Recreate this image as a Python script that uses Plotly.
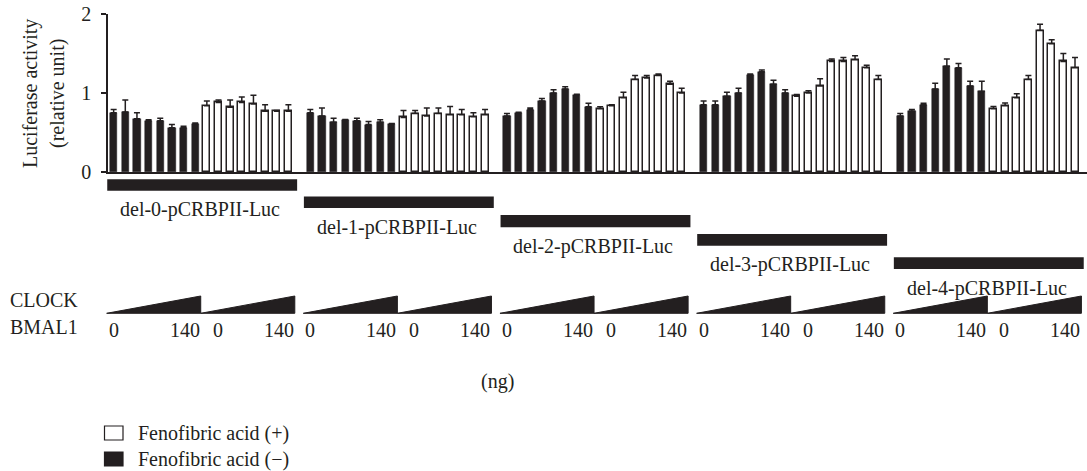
import plotly.graph_objects as go

# ---------------- data ----------------
constructs = ["del-0-pCRBPII-Luc", "del-1-pCRBPII-Luc", "del-2-pCRBPII-Luc",
              "del-3-pCRBPII-Luc", "del-4-pCRBPII-Luc"]

# Fenofibric acid (-) : 8 doses of CLOCK/BMAL1 (0 -> 140 ng) per construct
minus_vals = [
    [0.75, 0.76, 0.675, 0.65, 0.65, 0.56, 0.56, 0.61],
    [0.75, 0.71, 0.63, 0.66, 0.65, 0.60, 0.63, 0.61],
    [0.71, 0.75, 0.79, 0.90, 1.00, 1.05, 0.98, 0.825],
    [0.85, 0.85, 0.96, 1.00, 1.23, 1.27, 1.11, 1.00],
    [0.71, 0.77, 0.85, 1.05, 1.34, 1.32, 1.09, 1.02],
]
minus_err = [
    [0.04, 0.15, 0.075, 0.01, 0.03, 0.04, 0.02, 0.01],
    [0.04, 0.10, 0.05, 0.005, 0.03, 0.04, 0.03, 0.005],
    [0.03, 0.005, 0.02, 0.03, 0.04, 0.03, 0.005, 0.045],
    [0.05, 0.05, 0.05, 0.06, 0.01, 0.02, 0.05, 0.04],
    [0.03, 0.02, 0.02, 0.075, 0.09, 0.055, 0.06, 0.13],
]
# Fenofibric acid (+)
plus_vals = [
    [0.84, 0.88, 0.82, 0.88, 0.86, 0.77, 0.77, 0.77],
    [0.69, 0.74, 0.71, 0.74, 0.725, 0.725, 0.70, 0.725],
    [0.80, 0.84, 0.94, 1.17, 1.19, 1.22, 1.11, 1.00],
    [0.96, 1.00, 1.09, 1.40, 1.40, 1.42, 1.32, 1.17],
    [0.80, 0.84, 0.94, 1.17, 1.79, 1.625, 1.40, 1.32],
]
plus_err = [
    [0.06, 0.03, 0.09, 0.07, 0.11, 0.08, 0.01, 0.08],
    [0.09, 0.04, 0.10, 0.07, 0.105, 0.065, 0.05, 0.065],
    [0.025, 0.01, 0.07, 0.05, 0.03, 0.02, 0.04, 0.06],
    [0.02, 0.03, 0.09, 0.03, 0.05, 0.05, 0.03, 0.05],
    [0.03, 0.035, 0.05, 0.05, 0.08, 0.05, 0.10, 0.13],
]
dose_labels = ["0", "140"]
y_ticks = [0, 1, 2]
legend_labels = ["Fenofibric acid (+)", "Fenofibric acid (\u2212)"]

# ---------------- layout geometry ----------------
W, H = 1087, 471
ML, MT, MB, MR = 108, 14, 299, 0
PW = W - ML - MR
PH = H - MT - MB
GROUP_STEP = 16.88
N = 8
XMIN, XMAX = -0.485, 83.55
INK = "#231f20"
FONT = "Liberation Serif, Times New Roman, serif"
FS = 20


def d2px(x):
    return ML + (x - XMIN) / (XMAX - XMIN) * PW


def pxp(px):
    return (px - ML) / PW


def pyp(py):
    return (MT + PH - py) / PH


bx, by, be, wx, wy, we = [], [], [], [], [], []
for g in range(len(constructs)):
    for i in range(N):
        bx.append(g * GROUP_STEP + i)
        by.append(minus_vals[g][i])
        be.append(minus_err[g][i])
        wx.append(g * GROUP_STEP + N + i)
        wy.append(plus_vals[g][i])
        we.append(plus_err[g][i])

fig = go.Figure()
fig.add_trace(go.Bar(
    x=bx, y=by, width=0.62, name=legend_labels[1],
    marker=dict(color=INK, line=dict(color=INK, width=0.5)),
    error_y=dict(type="data", array=be, symmetric=False, arrayminus=[0] * len(be),
                 color=INK, thickness=1.5, width=3),
    showlegend=False))
fig.add_trace(go.Bar(
    x=wx, y=wy, width=0.60, name=legend_labels[0],
    marker=dict(color="white", line=dict(color=INK, width=1.5)),
    error_y=dict(type="data", array=we, symmetric=False, arrayminus=[0] * len(we),
                 color=INK, thickness=1.5, width=3),
    showlegend=False))

shapes = []
annotations = []

# construct bars and labels
bar_y = [(179.3, 190.7), (196.5, 208.0), (215.0, 227.3), (234.0, 245.7), (257.3, 269.0)]
for g, name in enumerate(constructs):
    x0 = d2px(g * GROUP_STEP - 0.55)
    x1 = min(d2px(g * GROUP_STEP + 2 * N - 1 + 0.75), W)
    y0, y1 = bar_y[g]
    shapes.append(dict(type="rect", xref="paper", yref="paper",
                       x0=pxp(x0), x1=pxp(x1), y0=pyp(y1), y1=pyp(y0),
                       fillcolor=INK, line=dict(width=0)))
    annotations.append(dict(text=name, xref="paper", yref="paper",
                            x=pxp((x0 + x1) / 2 - 2), y=pyp(y1 + 19),
                            xanchor="center", yanchor="middle", showarrow=False,
                            font=dict(family=FONT, size=FS, color=INK)))

    # dose wedges
    ws = d2px(g * GROUP_STEP - 0.6)
    we_ = d2px(g * GROUP_STEP + 2 * N - 1 + 0.55)
    wm = (ws + we_) / 2
    for k, (a, b) in enumerate([(ws, wm), (wm, we_)]):
        yb, yt = pyp(313.3), pyp(296)
        shapes.append(dict(type="path", xref="paper", yref="paper",
                           path=f"M {pxp(a)},{yb} L {pxp(b)},{yb} L {pxp(b)},{yt} Z",
                           fillcolor=INK, line=dict(color=INK, width=1)))
        zx = a + (7 if k == 0 else 17)
        annotations.append(dict(text=dose_labels[0], xref="paper", yref="paper",
                                x=pxp(zx), y=pyp(330), xanchor="center", yanchor="middle",
                                showarrow=False, font=dict(family=FONT, size=FS, color=INK)))
        annotations.append(dict(text=dose_labels[1], xref="paper", yref="paper",
                                x=pxp(b + 1), y=pyp(330), xanchor="right", yanchor="middle",
                                showarrow=False, font=dict(family=FONT, size=FS, color=INK)))

# row labels
for txt, yy in [("CLOCK", 300), ("BMAL1", 327)]:
    annotations.append(dict(text=txt, xref="paper", yref="paper", x=pxp(8), y=pyp(yy),
                            xanchor="left", yanchor="middle", showarrow=False,
                            font=dict(family=FONT, size=FS, color=INK)))
annotations.append(dict(text="(ng)", xref="paper", yref="paper", x=pxp(497), y=pyp(381),
                        xanchor="center", yanchor="middle", showarrow=False,
                        font=dict(family=FONT, size=FS, color=INK)))

# y-axis title (two rotated lines)
for txt, xx in [("Luciferase activity", 30), ("(relative unit)", 57)]:
    annotations.append(dict(text=txt, xref="paper", yref="paper", x=pxp(xx), y=pyp(94),
                            xanchor="center", yanchor="middle", textangle=-90, showarrow=False,
                            font=dict(family=FONT, size=FS, color=INK)))

# legend
for k, (fill, yy) in enumerate([("white", 433), (INK, 459)]):
    shapes.append(dict(type="rect", xref="paper", yref="paper",
                       x0=pxp(104.5), x1=pxp(123), y0=pyp(yy + 7), y1=pyp(yy - 7),
                       fillcolor=fill, line=dict(color=INK, width=1.2)))
    annotations.append(dict(text=legend_labels[k], xref="paper", yref="paper",
                            x=pxp(136), y=pyp(yy), xanchor="left", yanchor="middle",
                            showarrow=False, font=dict(family=FONT, size=FS, color=INK)))

fig.update_layout(
    width=W, height=H,
    margin=dict(l=ML, r=MR, t=MT, b=MB, pad=0),
    paper_bgcolor="white", plot_bgcolor="white",
    barmode="overlay", bargap=0,
    shapes=shapes, annotations=annotations,
    font=dict(family=FONT, size=FS, color=INK),
    xaxis=dict(range=[XMIN, XMAX], showline=True, linecolor=INK, linewidth=2,
               showticklabels=False, ticks="", showgrid=False, zeroline=False),
    yaxis=dict(range=[0, 2], tickvals=y_ticks, ticks="outside", ticklen=5, tickwidth=1.5,
               tickcolor=INK, showline=True, linecolor=INK, linewidth=1.5,
               showgrid=False, zeroline=False, ticklabelstandoff=6,
               tickfont=dict(family=FONT, size=FS, color=INK)),
)

fig.write_html("out.html")
